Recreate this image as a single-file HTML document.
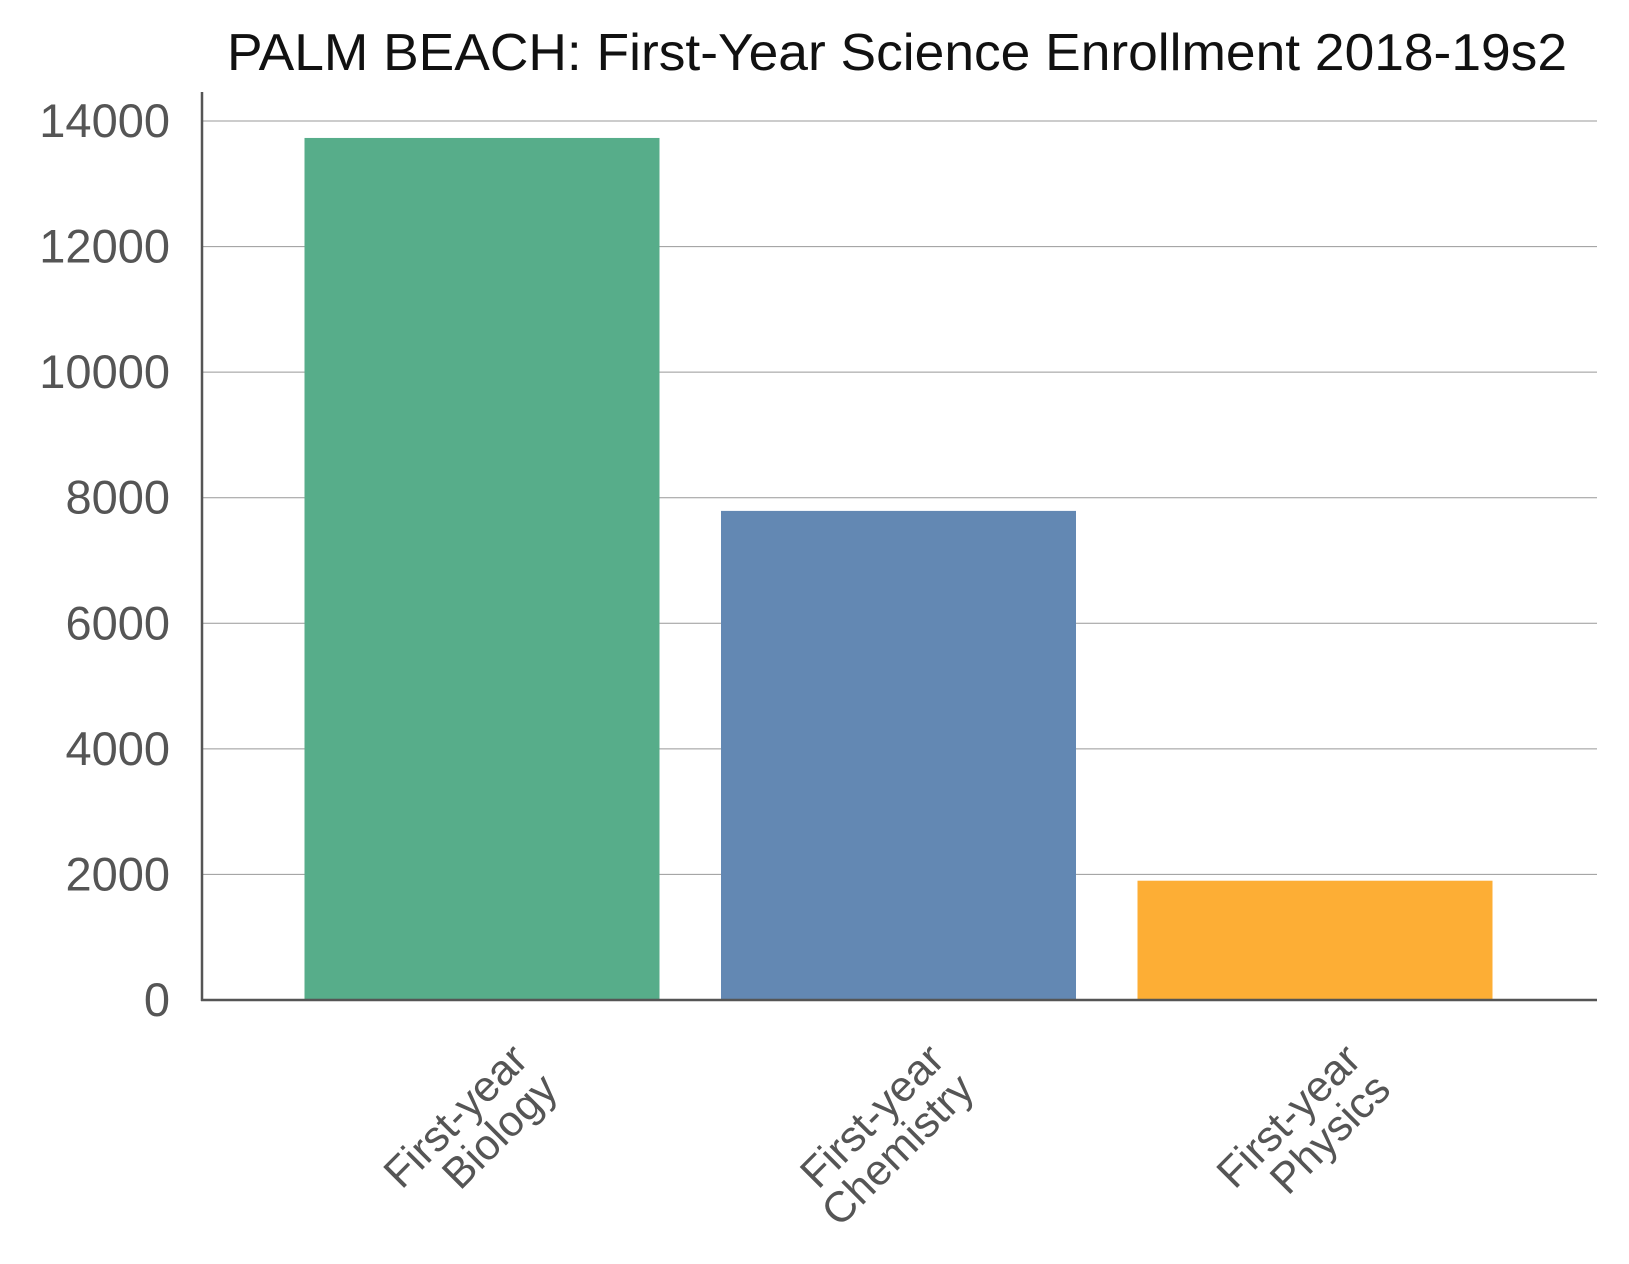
<!DOCTYPE html>
<html><head><meta charset="utf-8"><style>
html,body{margin:0;padding:0;background:#fff}
svg{display:block;font-family:"Liberation Sans",sans-serif}
</style></head><body>
<svg id="chart" width="1629" height="1264" viewBox="0 0 1629 1264">
<text x="227" y="70" font-size="52" fill="#111" textLength="1340" lengthAdjust="spacingAndGlyphs">PALM BEACH: First-Year Science Enrollment 2018-19s2</text>
<g id="grid"></g>
<g id="bars"></g>
<g id="yticks"></g>
<g id="xlabels"></g>
<line x1="202" y1="92" x2="202" y2="1001" stroke="#555" stroke-width="2.5"/>
<line x1="201" y1="1000" x2="1597" y2="1000" stroke="#555" stroke-width="2.5"/>
</svg>
<script>
const categories = [["First-year","Biology"],["First-year","Chemistry"],["First-year","Physics"]];
const values = [13730, 7790, 1900];
const colors = ["#57ad8a","#6388b3","#fdae35"];
const yTicks = [0,2000,4000,6000,8000,10000,12000,14000];

const NS = "http://www.w3.org/2000/svg";
const y0 = 1000, y14 = 121, yMax = 14000;
const y = v => y0 - (y0 - y14) * v / yMax;
const xCenter = i => 482 + 416.5 * i;
const barW = 355;
function mk(tag, attrs, parent){const e=document.createElementNS(NS,tag);for(const k in attrs)e.setAttribute(k,attrs[k]);parent.appendChild(e);return e;}

const grid = document.getElementById('grid'), yt = document.getElementById('yticks');
yTicks.forEach(t => {
  if (t > 0) {
    const l = mk('line', {x1:202, x2:1597, y1:y(t), y2:y(t), stroke:'#999', 'stroke-width':1}, grid);
    
    
  }
  const tx = mk('text', {x:170, y:y(t)+16, 'text-anchor':'end', 'font-size':47, fill:'#555'}, yt);
  tx.textContent = t;
  
  
});

const bars = document.getElementById('bars'), xl = document.getElementById('xlabels');
values.forEach((v, i) => {
  const r = mk('rect', {x:xCenter(i)-barW/2, y:y(v), width:barW, height:y0-y(v), fill:colors[i]}, bars);
  
  
  const cx = xCenter(i) + 48, cy = 1062;
  const g = mk('g', {transform:`translate(${cx},${cy}) rotate(-45)`}, xl);
  
  
  categories[i].forEach((line, j) => {
    const t = mk('text', {x:0, y:j*42, 'text-anchor':'end', 'font-size':43, fill:'#555'}, g);
    t.textContent = line;
  });
});
</script>
</body></html>
